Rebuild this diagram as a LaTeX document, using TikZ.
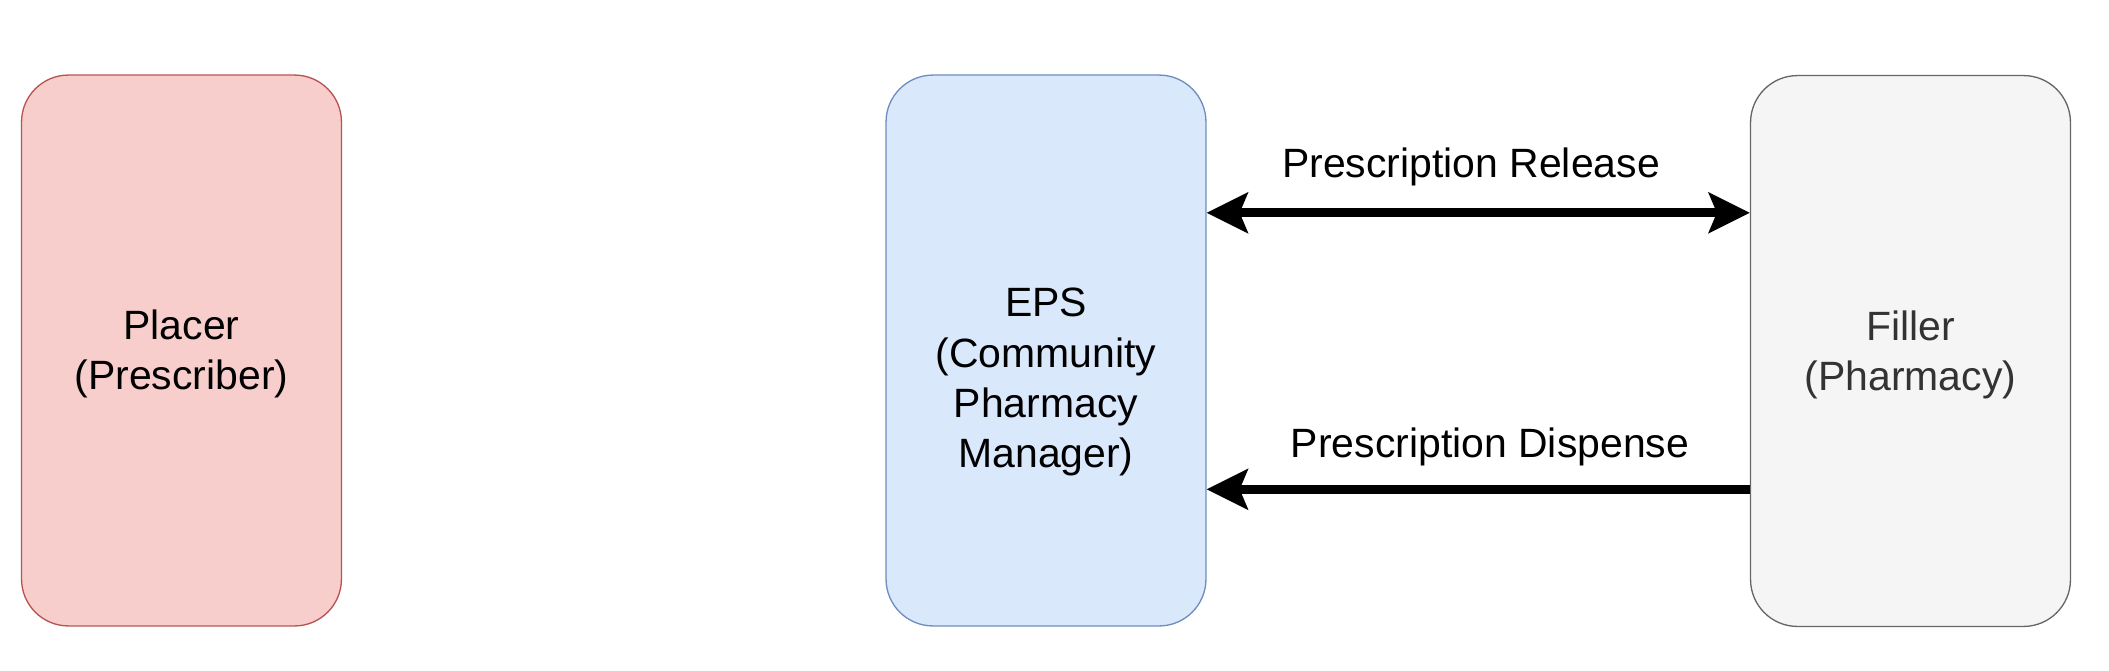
\documentclass[tikz,border=0pt]{standalone}
\usepackage{fontspec}
\setmainfont{Liberation Sans}
\usetikzlibrary{arrows.meta}

\definecolor{placerfill}{HTML}{F8CECC}
\definecolor{placerline}{HTML}{B85450}
\definecolor{epsfill}{HTML}{DAE8FC}
\definecolor{epsline}{HTML}{6C8EBF}
\definecolor{fillerfill}{HTML}{F5F5F5}
\definecolor{fillerline}{HTML}{666666}
\definecolor{fillertext}{HTML}{333333}

\begin{document}
\begin{tikzpicture}[x=0.02cm,y=-0.02cm,
	>={Stealth[length=0.82cm, width=0.8cm, inset=0.16cm]},
	actor/.style={draw, rounded corners=0.94cm, line width=0.75pt, minimum width=6.4cm, minimum height=11.02cm},
	actortext/.style={align=center, font=\fontsize{23.3}{28.5}\selectfont},
	msg/.style={font=\fontsize{23.3}{28.5}\selectfont},
	flow/.style={line width=5pt}]

		\useasboundingbox (0,0) rectangle (2109,670);

		\node[actor, fill=placerfill, draw=placerline] (placer) at (181.5,350.5) {};
		\node[actor, fill=epsfill, draw=epsline] (eps) at (1046,350.5) {};
		\node[actor, fill=fillerfill, draw=fillerline] (filler) at (1910.5,351) {};

		\node[actortext] (placer-label) at (181.5,354) {Placer\\(Prescriber)};
		\node[actortext] (eps-label) at (1046,382) {EPS\\(Community\\Pharmacy\\Manager)};
		\node[actortext, text=fillertext] (filler-label) at (1910.5,355) {Filler\\(Pharmacy)};

		\draw[flow, <->] (eps.east |- 0,212.8) -- (filler.west |- 0,212.8);
		\draw[flow, ->] (filler.west |- 0,489.3) -- (eps.east |- 0,489.3);

		\node[msg] (release) at (1471,167) {Prescription Release};
		\node[msg] (dispense) at (1490,447) {Prescription Dispense};

	\end{tikzpicture}
\end{document}
